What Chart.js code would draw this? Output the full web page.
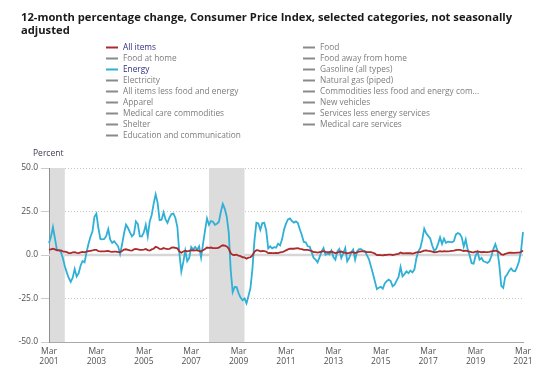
<!DOCTYPE html>
<html>
<head>
<meta charset="utf-8">
<script src="https://cdn.jsdelivr.net/npm/chart.js@4/dist/chart.umd.min.js"></script>
<style>
  html, body { margin: 0; padding: 0; background: #ffffff; }
  #wrap { position: relative; width: 554px; height: 368px; }
</style>
</head>
<body>
<div id="wrap"><canvas id="c" width="554" height="368"></canvas></div>
<script>
// ---------------- DATA ----------------
const chartTitle = ["12-month percentage change, Consumer Price Index, selected categories, not seasonally", "adjusted"];
const yAxisLabel = "Percent";
const startYear = 2001;
const startMonth = 3; // March
const monthNames = ["Jan","Feb","Mar","Apr","May","Jun","Jul","Aug","Sep","Oct","Nov","Dec"];

const seriesNames = [
  "All items", "Food",
  "Food at home", "Food away from home",
  "Energy", "Gasoline (all types)",
  "Electricity", "Natural gas (piped)",
  "All items less food and energy", "Commodities less food and energy com...",
  "Apparel", "New vehicles",
  "Medical care commodities", "Services less energy services",
  "Shelter", "Medical care services",
  "Education and communication"
];
const shownSeries = ["All items", "Energy"];

// All items, Mar 2001 .. Mar 2021
const allItems = [
  2.9, 3.3, 3.6, 3.2, 2.7, 2.7, 2.6, 2.1, 1.9, 1.6,                 // 2001 Mar-Dec
  1.1, 1.1, 1.5, 1.6, 1.2, 1.1, 1.5, 1.8, 1.5, 2.0, 2.2, 2.4,       // 2002
  2.6, 3.0, 3.0, 2.2, 2.1, 2.1, 2.1, 2.2, 2.3, 2.0, 1.8, 1.9,       // 2003
  1.9, 1.7, 1.7, 2.3, 3.1, 3.3, 3.0, 2.7, 2.5, 3.2, 3.5, 3.3,       // 2004
  3.0, 3.0, 3.1, 3.5, 2.8, 2.5, 3.2, 3.6, 4.7, 4.3, 3.5, 3.4,       // 2005
  4.0, 3.6, 3.4, 3.5, 4.2, 4.3, 4.1, 3.8, 2.1, 1.3, 2.0, 2.5,       // 2006
  2.1, 2.4, 2.8, 2.6, 2.7, 2.7, 2.4, 2.0, 2.8, 3.5, 4.3, 4.1,       // 2007
  4.3, 4.0, 4.0, 3.9, 4.2, 5.0, 5.6, 5.4, 4.9, 3.7, 1.1, 0.1,       // 2008
  0.0, 0.2, -0.4, -0.7, -1.3, -1.4, -2.1, -1.5, -1.3, -0.2, 1.8, 2.7, // 2009
  2.6, 2.1, 2.3, 2.2, 2.0, 1.1, 1.2, 1.1, 1.1, 1.2, 1.1, 1.5,       // 2010
  1.6, 2.1, 2.7, 3.2, 3.6, 3.6, 3.6, 3.8, 3.9, 3.5, 3.4, 3.0,       // 2011
  2.9, 2.9, 2.7, 2.3, 1.7, 1.7, 1.4, 1.7, 2.0, 2.2, 1.8, 1.7,       // 2012
  1.6, 2.0, 1.5, 1.1, 1.4, 1.8, 2.0, 1.5, 1.2, 1.0, 1.2, 1.5,       // 2013
  1.6, 1.1, 1.5, 2.0, 2.1, 2.1, 2.0, 1.7, 1.7, 1.7, 1.3, 0.8,       // 2014
  -0.1, 0.0, -0.1, -0.2, 0.0, 0.1, 0.2, 0.2, 0.0, 0.2, 0.5, 0.7,    // 2015
  1.4, 1.0, 0.9, 1.1, 1.0, 1.0, 0.8, 1.1, 1.5, 1.6, 1.7, 2.1,       // 2016
  2.5, 2.7, 2.4, 2.2, 1.9, 1.6, 1.7, 1.9, 2.2, 2.0, 2.2, 2.1,       // 2017
  2.1, 2.2, 2.4, 2.5, 2.8, 2.9, 2.9, 2.7, 2.3, 2.5, 2.2, 1.9,       // 2018
  1.6, 1.5, 1.9, 2.0, 1.8, 1.6, 1.8, 1.7, 1.7, 1.8, 2.1, 2.3,       // 2019
  2.5, 2.3, 1.5, 0.3, 0.1, 0.6, 1.0, 1.3, 1.4, 1.2, 1.2, 1.4,       // 2020
  1.4, 1.7, 2.6                                                     // 2021 Jan-Mar
];

// Energy, Mar 2001 .. Mar 2021
const energy = [
  6.9, 10.5, 16.0, 9.5, 3.1, 2.8, 1.8, -1.7, -6.5, -10.0,                        // 2001 Mar-Dec
  -13.2, -15.5, -13.0, -8.0, -12.3, -10.5, -6.0, -3.5, -4.2, 1.5, 6.5, 10.5,     // 2002
  13.5, 22.0, 23.8, 15.5, 9.2, 9.0, 9.2, 11.0, 14.9, 8.8, 7.0, 7.9,              // 2003
  6.5, 5.0, 0.6, 6.0, 12.5, 17.4, 15.5, 13.0, 10.7, 12.0, 19.3, 17.8,            // 2004
  10.7, 10.7, 13.0, 17.4, 10.7, 19.3, 23.0, 29.5, 34.8, 30.0, 20.0, 20.3,        // 2005
  24.5, 20.5, 18.5, 21.5, 23.5, 23.8, 21.3, 16.0, 1.0, -9.5, -4.0, 2.5,          // 2006
  -3.6, -1.7, 4.6, 3.1, 4.6, 3.1, 5.0, -1.5, 6.5, 14.0, 21.0, 17.4,              // 2007
  19.5, 19.1, 17.4, 18.0, 19.0, 24.7, 29.3, 26.5, 22.0, 13.0, -8.6, -21.3,       // 2008
  -18.4, -18.5, -22.0, -24.5, -26.0, -25.0, -27.8, -23.5, -19.0, -8.0, 8.0, 18.5, // 2009
  18.1, 14.4, 18.3, 18.5, 14.0, 3.8, 5.0, 3.8, 4.5, 4.2, 6.5, 5.5,               // 2010
  9.0, 14.6, 18.0, 20.5, 21.0, 19.5, 18.6, 19.3, 18.4, 14.8, 11.5, 7.5,          // 2011
  7.3, 5.0, 4.8, 1.5, -1.7, -2.7, -4.2, -1.2, 2.0, 4.0, 0.2, 0.8,                // 2012
  0.4, 2.5, -1.2, -2.7, 2.0, 3.4, -1.7, 1.0, 4.0, -3.6, -1.7, 1.5,               // 2013
  3.1, -2.7, 2.1, 3.4, 3.4, 2.5, 2.1, -0.2, -2.5, -6.5, -10.6, -15.1,            // 2014
  -19.6, -18.8, -18.3, -19.4, -16.3, -15.0, -14.2, -15.0, -18.0, -17.1, -14.7, -12.6, // 2015
  -6.9, -12.3, -11.0, -9.4, -10.5, -9.0, -10.0, -8.4, -2.0, 2.1, 4.0, 8.8,       // 2016
  15.2, 12.5, 11.0, 9.5, 5.6, 2.6, 3.4, 6.4, 10.1, 6.4, 9.4, 6.9,                // 2017
  7.7, 7.5, 7.3, 7.9, 11.7, 12.6, 12.1, 10.2, 4.8, 8.9, 3.1, -0.3,               // 2018
  -4.7, -5.0, -0.4, 1.7, -2.7, -1.7, -3.6, -4.0, -4.6, -3.6, -0.6, 3.4,          // 2019
  6.2, 2.8, -5.7, -17.7, -18.9, -12.6, -11.2, -9.0, -7.7, -9.2, -9.4, -7.0,      // 2020
  -3.6, 2.4, 13.2                                                                // 2021 Jan-Mar
];

// Recession periods (shaded)
const recessionStart = ["2001-03", "2007-12"];
const recessionEnd   = ["2001-11", "2009-06"];

const yTickValues = [-50, -25, 0, 25, 50];
const xTickEveryMonths = 24;

// ---------------- BUILD ----------------
const monthKeys = allItems.map((_, i) => {
  const t = (startMonth - 1) + i;
  const y = startYear + Math.floor(t / 12);
  const m = t % 12;
  return y + "-" + String(m + 1).padStart(2, "0");
});
const monthLabels = monthKeys.map(k => {
  const [y, m] = k.split("-");
  return [monthNames[parseInt(m, 10) - 1], y];
});

const COLORS = { "All items": "#ac2a2c", "Energy": "#2fb0d6" };
const FONT = "'Open Sans', 'DejaVu Sans', sans-serif";

const decor = {
  id: "decor",
  beforeDatasetsDraw(chart) {
    const { ctx, chartArea: a, scales: { x, y } } = chart;
    ctx.save();
    // zero line
    const y0 = y.getPixelForValue(0);
    ctx.strokeStyle = "#d6d6d6";
    ctx.lineWidth = 2.5;
    ctx.beginPath();
    ctx.moveTo(a.left, y0);
    ctx.lineTo(a.right, y0);
    ctx.stroke();
    // recession shading
    ctx.fillStyle = "#dcdcdc";
    recessionStart.forEach((s, i) => {
      let x1 = x.getPixelForValue(monthKeys.indexOf(s));
      const x2 = x.getPixelForValue(monthKeys.indexOf(recessionEnd[i]));
      x1 = Math.max(x1, a.left + 1);
      ctx.fillRect(x1, a.top, x2 - x1, a.bottom - a.top);
    });
    ctx.restore();
  },
  afterDraw(chart) {
    const { ctx } = chart;
    ctx.save();
    // title
    ctx.fillStyle = "#1a1a1a";
    ctx.font = "bold 11.2px " + FONT;
    ctx.textAlign = "left";
    ctx.textBaseline = "alphabetic";
    ctx.fillText(chartTitle[0], 21, 21);
    ctx.fillText(chartTitle[1], 21, 34);
    // legend (two columns)
    ctx.font = "8.3px " + FONT;
    ctx.textBaseline = "middle";
    seriesNames.forEach((name, i) => {
      const col = i % 2;
      const row = Math.floor(i / 2);
      const sx = col === 0 ? 106 : 303;
      const yy = 47.5 + row * 11;
      const on = shownSeries.includes(name);
      ctx.strokeStyle = on ? COLORS[name] : "#8a8a8a";
      ctx.lineWidth = 2;
      ctx.beginPath();
      ctx.moveTo(sx, yy);
      ctx.lineTo(sx + 12, yy);
      ctx.stroke();
      ctx.fillStyle = on ? "#2e2e86" : "#7c7c7c";
      ctx.fillText(name, sx + 17, yy + 0.5);
    });
    // y axis label
    ctx.font = "8.5px " + FONT;
    ctx.fillStyle = "#3c3c50";
    ctx.textBaseline = "middle";
    ctx.fillText(yAxisLabel, 33, 153.5);
    ctx.restore();
  }
};

new Chart(document.getElementById("c"), {
  type: "line",
  data: {
    labels: monthLabels,
    datasets: [
      { label: "All items", data: allItems, borderColor: COLORS["All items"], borderWidth: 1.8,
        pointRadius: 0, tension: 0, fill: false },
      { label: "Energy", data: energy, borderColor: COLORS["Energy"], borderWidth: 1.8,
        pointRadius: 0, tension: 0, fill: false }
    ]
  },
  options: {
    responsive: false,
    animation: false,
    devicePixelRatio: 1,
    layout: { padding: { top: 168, right: 31, bottom: 0, left: 0 } },
    plugins: { legend: { display: false }, title: { display: false }, tooltip: { enabled: false } },
    scales: {
      x: {
        type: "category",
        offset: false,
        afterFit: s => { s.height = 26; },
        grid: { display: false, drawTicks: false },
        border: { display: true, color: "#a8a8a8", width: 1 },
        ticks: {
          autoSkip: false, maxRotation: 0, minRotation: 0, padding: 4,
          color: "#505050",
          font: { family: FONT, size: 8.5, lineHeight: 1.25 },
          callback: function (v, i) { return i % xTickEveryMonths === 0 ? monthLabels[i] : null; }
        }
      },
      y: {
        min: -50, max: 50,
        afterFit: s => { s.width = 49; },
        afterBuildTicks: s => { s.ticks = yTickValues.map(v => ({ value: v })); },
        grid: {
          color: c => (c.tick && (c.tick.value === 0 || c.tick.value === -50)) ? "rgba(0,0,0,0)" : "#c4c4c4",
          lineWidth: 1,
          tickLength: 8,
          tickColor: "#c3cdd8",
          tickWidth: 1
        },
        border: { display: true, color: "#8e8e8e", width: 1, dash: [1, 2] },
        ticks: {
          padding: 3,
          color: "#505050",
          font: { family: FONT, size: 8.5 },
          callback: v => Number(v).toFixed(1)
        }
      }
    }
  },
  plugins: [decor]
});
</script>
</body>
</html>
